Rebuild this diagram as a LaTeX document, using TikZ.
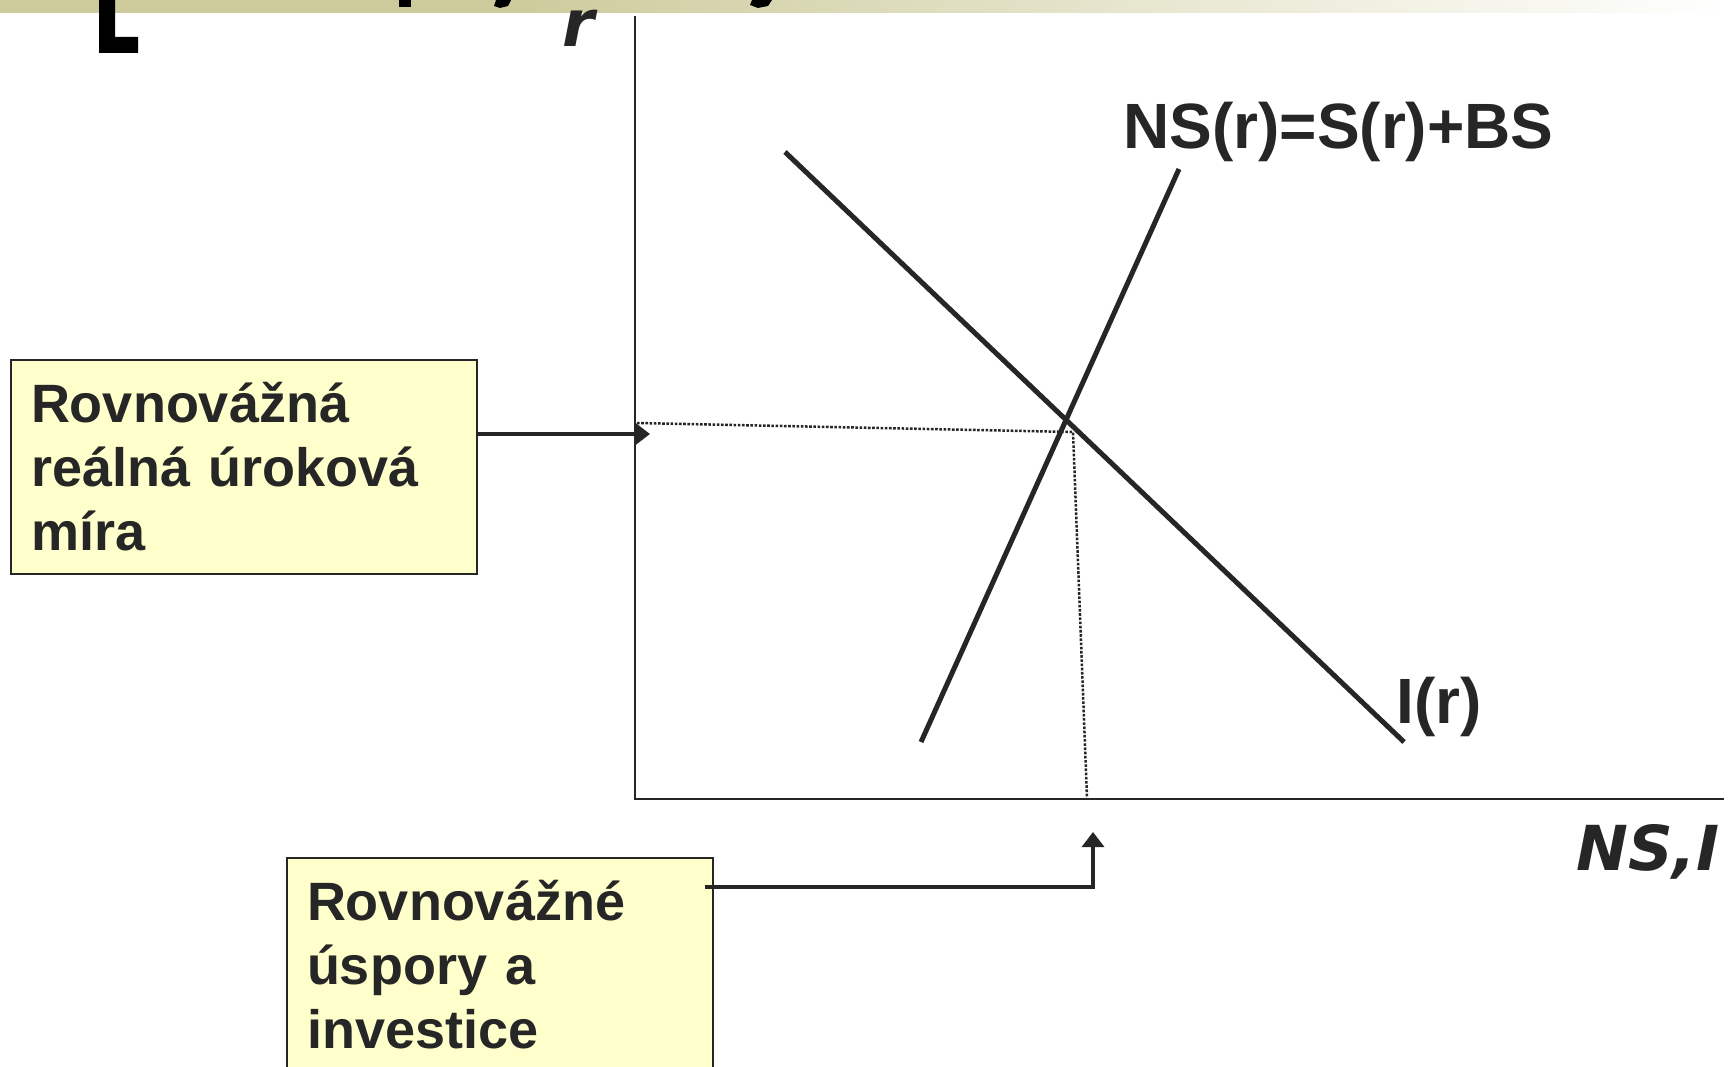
\documentclass[tikz,border=0pt]{standalone}
\usepackage{fontspec}
\setmainfont{Liberation Sans}
\newfontfamily\axfont{DejaVu Sans}
\usetikzlibrary{arrows.meta}
\definecolor{ink}{HTML}{262626}
\definecolor{olv}{HTML}{CDCB9B}
\definecolor{boxfill}{HTML}{FFFFCC}
\tikzset{
  axisline/.style={draw=ink, line width=2.2pt},
  curve/.style={draw=ink, line width=5pt},
  guide/.style={draw=ink, line width=2.5pt, dash pattern=on 2.6pt off 1.6pt},
  arr/.style={draw=ink, line width=3.4pt, -{Triangle[length=15pt,width=22pt]}},
  lbox/.style={draw=ink, line width=2.2pt, fill=boxfill, text=ink, inner sep=0pt,
    minimum height=214pt, align=left,
    font=\fontsize{54}{64}\selectfont\bfseries},
  lab/.style={text=ink, inner sep=0pt, font=\fontsize{64}{64}\selectfont\bfseries},
  axlab/.style={text=ink, inner sep=0pt, font=\axfont\bfseries\itshape}
}
\begin{document}
\begin{tikzpicture}[x=1pt,y=-1pt]
\useasboundingbox (0,0) rectangle (1731,1067);
\fill[white] (0,0) rectangle (1731,1067);
% top band (cut-off title bar)
\fill[olv] (0,0) rectangle (500,13);
\shade[left color=olv,right color=white] (500,0) rectangle (1731,13);
\fill[black] (99,0) -- (115,0) -- (115,37) -- (138,37) -- (138,53) -- (99,53) -- cycle;
\fill[black] (399,0) rectangle (411,7);
\fill[black] (496,0) -- (511,0) -- (508,6) -- (500,8) -- (494,6) -- cycle;
\fill[black] (752,0) -- (772,0) -- (768,6) -- (758,8) -- (750,5) -- cycle;

% axes
\coordinate (ytop) at (635,16);
\coordinate (orig) at (635,799);
\coordinate (xend) at (1724,799);
\draw[axisline] (ytop) -- (orig) -- (xend);
\node[axlab, anchor=base, text height=35pt, text depth=0pt,
  font=\axfont\bfseries\itshape\fontsize{65}{65}\selectfont] (rlab) at (579,47) {r};
\node[axlab, anchor=base west, font=\axfont\bfseries\itshape\fontsize{62}{62}\selectfont] (xlab) at (1576,870) {NS,I};

% curves
\coordinate (i1) at (785,152);
\coordinate (i2) at (1404,742);
\coordinate (n1) at (1179,169);
\coordinate (n2) at (921,742);
\draw[curve] (i1) -- (i2);
\draw[curve] (n1) -- (n2);
\node[lab, anchor=base west] (nslab) at (1123,149) {NS(r)=S(r)+BS};
\node[lab, anchor=base west] (ilab) at (1396,723) {I(r)};

% dotted guides
\coordinate (ry) at (637,423);
\coordinate (eq) at (1073,432);
\coordinate (sx) at (1087,798);
\draw[guide] (ry) -- (eq) -- (sx);

% boxes
\node[lbox, minimum width=466pt, text width=426pt] (box1) at (244,467) {Rovnovážná\\reálná úroková\\míra};
\node[lbox, minimum width=426pt, text width=386pt] (box2) at (500,965) {Rovnovážné\\úspory a\\investice};

% arrows
\coordinate (rtip) at (650,434);
\coordinate (stip) at (1093,832);
\draw[arr] ([yshift=33pt]box1.east) -- (rtip);
\draw[arr] ([xshift=-9pt,yshift=78pt]box2.east) -| (stip);
\end{tikzpicture}
\end{document}
